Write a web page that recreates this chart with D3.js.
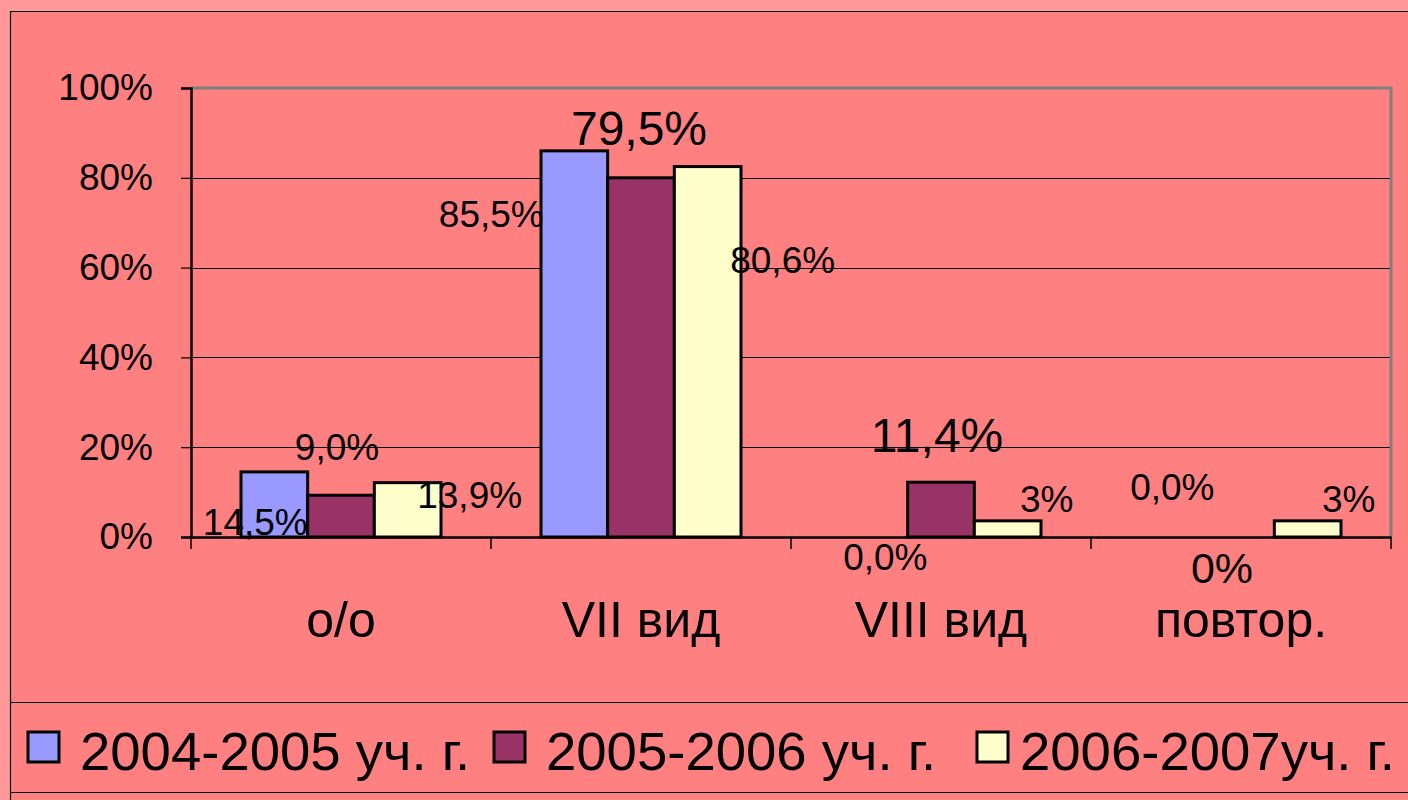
<!DOCTYPE html>
<html><head><meta charset="utf-8">
<script src="https://cdn.jsdelivr.net/npm/d3@7"></script>
<style>
html,body{margin:0;padding:0;background:#FF9999;}
svg{display:block;font-family:"Liberation Sans",Arial,sans-serif;}
</style></head>
<body><svg id="c" width="1408" height="800"></svg>
<script>
// ---- data ----
const categories = ["о/о", "VII вид", "VIII вид", "повтор."];
const seriesNames = ["2004-2005 уч. г.", "2005-2006 уч. г.", "2006-2007уч. г."];
const values2004 = [14.5, 86.0, 0, 0];
const values2005 = [9.3, 80.0, 12.2, 0];
const values2006 = [12.1, 82.5, 3.6, 3.6];
const labels2004 = ["14,5%", "85,5%", "0,0%", "0,0%"];
const labels2005 = ["9,0%", "79,5%", "11,4%", "0%"];
const labels2006 = ["13,9%", "80,6%", "3%", "3%"];
const yTicks = [0, 20, 40, 60, 80, 100];
const yTickLabels = ["0%", "20%", "40%", "60%", "80%", "100%"];

// ---- style / layout (not data) ----
const colors = ["#9999FF", "#993366", "#FFFFCC"];
// label offsets relative to bar top-centre [dx, dy, fontSize]
const labelLayout = [
  [[-19, 63, 37], [-83, 76, 37], [11, 33, 37], [-2, -37, 37]],
  [[-4, -35, 37], [-2, -33, 48], [-4, -30, 48], [-19, 46, 43]],
  [[62, 25, 37], [75, 106, 37], [39, -9, 37], [41, -9, 37]]
];

const svg = d3.select("#c");
const W = 1408, H = 800;
const plot = {left: 191, right: 1391, top: 88, bottom: 537};

// frame
svg.append("rect").attr("x", 0).attr("y", 0).attr("width", W).attr("height", H).attr("fill", "#FF9999");
svg.append("rect").attr("x", 10).attr("y", 11).attr("width", W).attr("height", H).attr("fill", "#FF8080");
svg.append("line").attr("x1", 10.5).attr("x2", 10.5).attr("y1", 11).attr("y2", H).attr("stroke", "#000").attr("stroke-width", 1.2);
svg.append("line").attr("x1", 10).attr("x2", W).attr("y1", 11.5).attr("y2", 11.5).attr("stroke", "#000").attr("stroke-width", 1.2);
svg.append("line").attr("x1", 10).attr("x2", W).attr("y1", 702.5).attr("y2", 702.5).attr("stroke", "#000").attr("stroke-width", 1.2);
svg.append("line").attr("x1", 10).attr("x2", W).attr("y1", 792.5).attr("y2", 792.5).attr("stroke", "#000").attr("stroke-width", 1.2);

const x0 = d3.scaleBand().domain(categories).range([plot.left, plot.right]).padding(0);
const x1 = d3.scaleBand().domain(d3.range(3)).range([50, 250]).padding(0);
const y = d3.scaleLinear().domain([0, 100]).range([plot.bottom, plot.top]);

// gridlines
svg.append("g").selectAll("line").data(yTicks.filter(t => t > 0 && t < 100)).join("line")
  .attr("x1", plot.left).attr("x2", plot.right)
  .attr("y1", d => Math.round(y(d)) + 0.5).attr("y2", d => Math.round(y(d)) + 0.5)
  .attr("stroke", "#000").attr("stroke-width", 1.2);

// plot border top & right (gray)
svg.append("path")
  .attr("d", `M${plot.left},${plot.top}H${plot.right}V${plot.bottom}`)
  .attr("fill", "none").attr("stroke", "#808080").attr("stroke-width", 3);

// bars
const allVals = [values2004, values2005, values2006];
const allLabels = [labels2004, labels2005, labels2006];
const barData = [];
allVals.forEach((arr, s) => arr.forEach((v, i) => barData.push({s, i, v, label: allLabels[s][i]})));

svg.append("g").selectAll("rect").data(barData.filter(d => d.v > 0)).join("rect")
  .attr("x", d => x0(categories[d.i]) + x1(d.s))
  .attr("y", d => y(d.v))
  .attr("width", x1.bandwidth())
  .attr("height", d => y(0) - y(d.v))
  .attr("fill", d => colors[d.s])
  .attr("stroke", "#000").attr("stroke-width", 3);

// axes
const yAxis = d3.axisLeft(y).tickValues(yTicks).tickFormat((d, i) => yTickLabels[i]).tickSize(10).tickPadding(28);
const gy = svg.append("g").attr("transform", `translate(${plot.left},0)`).call(yAxis);
gy.select(".domain").attr("stroke", "#000").attr("stroke-width", 2.5);
gy.selectAll(".tick line").attr("stroke", "#000").attr("stroke-width", 1.2);
gy.selectAll(".tick text").attr("font-size", 37).attr("fill", "#000")
  .attr("font-family", "'Liberation Sans',Arial,sans-serif");

const xAxis = d3.axisBottom(x0).tickSize(0).tickFormat("");
const gx = svg.append("g").attr("transform", `translate(0,${plot.bottom})`).call(xAxis);
gx.select(".domain").attr("stroke", "#000").attr("stroke-width", 2.5);
// category boundary ticks
const bounds = categories.map(c => x0(c)).concat([plot.right]);
svg.append("g").selectAll("line").data(bounds).join("line")
  .attr("x1", d => d).attr("x2", d => d).attr("y1", plot.bottom).attr("y2", plot.bottom + 12)
  .attr("stroke", "#000").attr("stroke-width", 1.5);
// category labels
svg.append("g").selectAll("text").data(categories).join("text")
  .attr("x", d => x0(d) + x0.bandwidth() / 2).attr("y", 637)
  .attr("text-anchor", "middle").attr("font-size", 50).attr("fill", "#000")
  .text(d => d);

// data labels
svg.append("g").selectAll("text").data(barData).join("text")
  .attr("x", d => x0(categories[d.i]) + x1(d.s) + x1.bandwidth() / 2 + labelLayout[d.s][d.i][0])
  .attr("y", d => y(d.v) + labelLayout[d.s][d.i][1])
  .attr("text-anchor", "middle")
  .attr("font-size", d => labelLayout[d.s][d.i][2])
  .attr("fill", "#000")
  .text(d => d.label);

// legend
const legendX = [27, 493, 976];
const leg = svg.append("g").selectAll("g").data(seriesNames).join("g")
  .attr("transform", (d, i) => `translate(${legendX[i]},0)`);
leg.append("rect").attr("x", 1).attr("y", 732).attr("width", 31).attr("height", 30)
  .attr("fill", (d, i) => colors[i]).attr("stroke", "#000").attr("stroke-width", 3);
leg.append("text").attr("x", (d, i) => i === 2 ? 44 : 53).attr("y", 770)
  .attr("font-size", 54.5).attr("fill", "#000").text(d => d);
</script></body></html>
